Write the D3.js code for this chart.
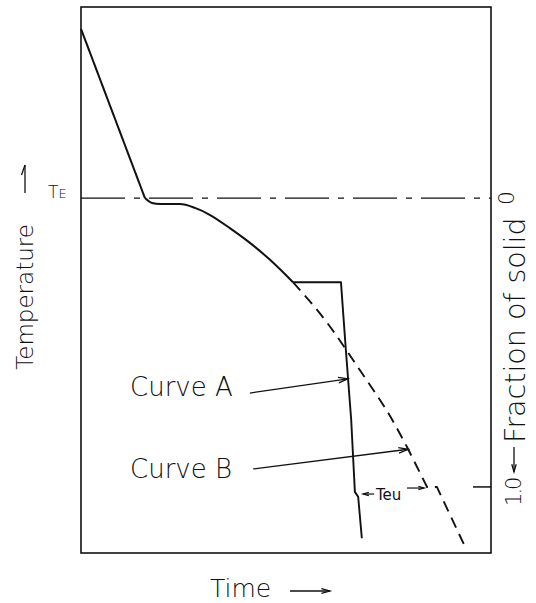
<!DOCTYPE html>
<html>
<head>
<meta charset="utf-8">
<script src="https://cdn.jsdelivr.net/npm/d3@7"></script>
<style>
  html, body { margin: 0; padding: 0; background: #fff; }
  svg { display: block; }
  text { font-family: "DejaVu Sans", sans-serif; fill: #111; font-weight: 200; }
</style>
</head>
<body>
<svg id="chart" width="536" height="603"></svg>
<script>
// ---- data (time and temperature in relative units, 0..100) ----
const TE = 65.0;                       // eutectic temperature
const commonTime = [0, 15.6, 17.3, 19.3, 24.1, 27.8, 31.5, 36.3, 41.2, 46.1, 51.7];
const commonTemp = [96, 65.0, 64.1, 63.9, 63.9, 63.2, 61.9, 59.5, 56.8, 53.7, 49.6];
const curveATime = [51.7, 63.4, 64.6, 65.9, 66.8, 67.6, 68.5];
const curveATemp = [49.6, 49.6, 37.2, 24.4, 11.2, 10.3, 2.7];
const curveBTime = [51.7, 59.5, 68.0, 75.9, 79.8, 84.4, 86.8, 93.7];
const curveBTemp = [49.6, 42.7, 33.5, 24.4, 19.0, 12.1, 12.1, 1.1];
const fractionTicks = [0, 1.0];
const fractionLabels = ["0", "1.0"];
const fractionTemp = [65.0, 12.1];     // temperature level where fraction 0 / 1.0 sits
const labels = { xTitle: "Time", yTitle: "Temperature", y2Title: "Fraction of solid",
                 curveA: "Curve A", curveB: "Curve B", teu: "Teu" };
// annotation anchors (data units)
const arrowA = [[41.2, 29.3], [65.1, 31.9]];
const arrowB = [[42.0, 15.4], [79.8, 19.0]];
const teuLeft = [[71.5, 10.8], [68.8, 10.8]];
const teuRight = [[79.5, 11.9], [83.7, 11.9]];

// ---- layout ----
const svg = d3.select("#chart");
const L = 81, R = 491, T = 7, B = 553;
const x = d3.scaleLinear().domain([0, 100]).range([L, R]);
const y = d3.scaleLinear().domain([0, 100]).range([B, T]);
const f = d3.scaleLinear().domain(fractionTicks).range(fractionTemp.map(y));
const ink = "#111";

function arrow(g, x1, y1, x2, y2, head, sw) {
  g.append("line").attr("x1", x1).attr("y1", y1).attr("x2", x2).attr("y2", y2)
    .attr("stroke", ink).attr("stroke-width", sw || 1.3);
  const a = Math.atan2(y2 - y1, x2 - x1), s = 0.28;
  const p = d3.path();
  p.moveTo(x2 - head * Math.cos(a - s), y2 - head * Math.sin(a - s));
  p.lineTo(x2, y2);
  p.lineTo(x2 - head * Math.cos(a + s), y2 - head * Math.sin(a + s));
  g.append("path").attr("d", p.toString()).attr("fill", "none")
    .attr("stroke", ink).attr("stroke-width", sw || 1.3);
}

// frame
svg.append("rect").attr("x", L).attr("y", T).attr("width", R - L).attr("height", B - T)
  .attr("fill", "none").attr("stroke", ink).attr("stroke-width", 1.6);

// TE dash-dot line
svg.append("line").attr("x1", x(0)).attr("x2", x(100)).attr("y1", y(TE)).attr("y2", y(TE))
  .attr("stroke", ink).attr("stroke-width", 1.4).attr("stroke-dasharray", "44,9,6,9");

// curves
const common = d3.zip(commonTime, commonTemp);
const lin = d3.line().x(d => x(d[0])).y(d => y(d[1]));
const mono = d3.line().x(d => x(d[0])).y(d => y(d[1])).curve(d3.curveMonotoneX);
svg.append("path").datum(common.slice(0, 2)).attr("d", lin).attr("fill", "none")
  .attr("stroke", ink).attr("stroke-width", 2);
svg.append("path").datum(common.slice(1)).attr("d", mono).attr("fill", "none")
  .attr("stroke", ink).attr("stroke-width", 2);
svg.append("path").datum(d3.zip(curveATime, curveATemp))
  .attr("d", lin).attr("fill", "none")
  .attr("stroke", ink).attr("stroke-width", 1.9).attr("stroke-linejoin", "round");
const curveB = d3.zip(curveBTime, curveBTemp);
svg.append("path").datum(curveB.slice(0, 5))
  .attr("d", mono).attr("fill", "none")
  .attr("stroke", ink).attr("stroke-width", 1.9).attr("stroke-dasharray", "11,7");
svg.append("path").datum(curveB.slice(4))
  .attr("d", lin).attr("fill", "none")
  .attr("stroke", ink).attr("stroke-width", 1.9).attr("stroke-dasharray", "11,7")
  .attr("stroke-dashoffset", 4);

// right fraction axis: tick at 1.0, labels
svg.append("line").attr("x1", R - 18).attr("x2", R).attr("y1", f(1)).attr("y2", f(1))
  .attr("stroke", ink).attr("stroke-width", 1.5);
svg.append("text").attr("transform", `translate(514,${f(0) + 7}) rotate(-90)`)
  .attr("font-size", 22).text(fractionLabels[0]);
svg.append("text").attr("transform", `translate(521,${f(1) + 19}) rotate(-90)`)
  .attr("font-size", 21).attr("letter-spacing", -2).text(fractionLabels[1]);
arrow(svg, 514, f(1) - 40, 514, f(1) - 15, 8);
svg.append("text").attr("transform", `translate(525,${f(1) - 44}) rotate(-90)`)
  .attr("font-size", 28.5).text(labels.y2Title);

// left: TE label, temperature title, arrow
const te = svg.append("text").attr("x", 48).attr("y", y(TE)).attr("font-size", 17);
te.append("tspan").text("T");
te.append("tspan").attr("font-size", 13).text("E");
svg.append("text").attr("transform", "translate(33,297) rotate(-90)")
  .attr("text-anchor", "middle").attr("font-size", 23).text(labels.yTitle);
svg.append("line").attr("x1", 25).attr("x2", 25).attr("y1", 193).attr("y2", 165)
  .attr("stroke", ink).attr("stroke-width", 1.3);
svg.append("line").attr("x1", 25).attr("x2", 21.5).attr("y1", 165).attr("y2", 175)
  .attr("stroke", ink).attr("stroke-width", 1.3);

// x title
svg.append("text").attr("x", 210).attr("y", 597).attr("font-size", 25).text(labels.xTitle);
arrow(svg, 290, 591, 330, 591, 9);

// curve annotations
svg.append("text").attr("x", 130).attr("y", 396).attr("font-size", 26).text(labels.curveA);
svg.append("text").attr("x", 130).attr("y", 478).attr("font-size", 26).text(labels.curveB);
arrow(svg, x(arrowA[0][0]), y(arrowA[0][1]), x(arrowA[1][0]), y(arrowA[1][1]), 10);
arrow(svg, x(arrowB[0][0]), y(arrowB[0][1]), x(arrowB[1][0]), y(arrowB[1][1]), 10);

// Teu
svg.append("text").attr("x", 376).attr("y", 500).attr("font-size", 15)
  .style("font-weight", 400).text(labels.teu);
arrow(svg, x(teuLeft[0][0]), y(teuLeft[0][1]), x(teuLeft[1][0]), y(teuLeft[1][1]), 6, 1.2);
arrow(svg, x(teuRight[0][0]), y(teuRight[0][1]), x(teuRight[1][0]), y(teuRight[1][1]), 6, 1.2);
</script>
</body>
</html>
